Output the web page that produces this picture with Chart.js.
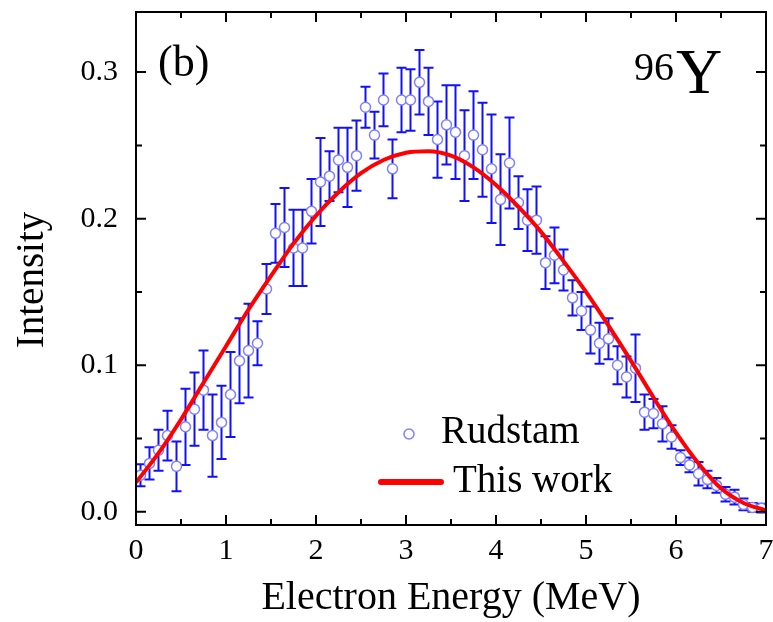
<!DOCTYPE html>
<html lang="en">
<head>
  <meta charset="UTF-8">
  <title>96Y electron spectrum</title>
  <script src="https://cdn.jsdelivr.net/npm/chart.js@4.4.1/dist/chart.umd.min.js"></script>
  <style>
    html, body { margin: 0; padding: 0; background: #fff; }
  </style>
</head>
<body>
<canvas id="spectrum" width="773" height="622"></canvas>

<script>
  // Rudstam measured points (MeV, intensity, error)
  const energies = [0.05, 0.15, 0.25, 0.35, 0.45, 0.55, 0.65, 0.75, 0.85, 0.95,
    1.05, 1.15, 1.25, 1.35, 1.45, 1.55, 1.65, 1.75, 1.85, 1.95,
    2.05, 2.15, 2.25, 2.35, 2.45, 2.55, 2.65, 2.75, 2.85, 2.95,
    3.05, 3.15, 3.25, 3.35, 3.45, 3.55, 3.65, 3.75, 3.85, 3.95,
    4.05, 4.15, 4.25, 4.35, 4.45, 4.55, 4.65, 4.75, 4.85, 4.95,
    5.05, 5.15, 5.25, 5.35, 5.45, 5.55, 5.65, 5.75, 5.85, 5.95,
    6.05, 6.15, 6.25, 6.35, 6.45, 6.55, 6.65, 6.75, 6.85, 6.95];
  const intensities = [0.025, 0.033, 0.042, 0.052, 0.031, 0.058, 0.070, 0.083, 0.052, 0.061,
    0.080, 0.103, 0.110, 0.115, 0.152, 0.190, 0.194, 0.180, 0.180, 0.205,
    0.225, 0.229, 0.240, 0.235, 0.243, 0.276, 0.257, 0.281, 0.234, 0.281,
    0.281, 0.293, 0.280, 0.254, 0.264, 0.259, 0.243, 0.257, 0.247, 0.234,
    0.213, 0.238, 0.211, 0.199, 0.199, 0.170, 0.175, 0.165, 0.146, 0.137,
    0.124, 0.115, 0.118, 0.100, 0.092, 0.098, 0.068, 0.067, 0.060, 0.051,
    0.037, 0.032, 0.026, 0.022, 0.018, 0.012, 0.010, 0.005, 0.003, 0.0025];
  const errors = [0.0075, 0.011, 0.014, 0.017, 0.017, 0.026, 0.025, 0.027, 0.028, 0.025,
    0.029, 0.029, 0.032, 0.015, 0.017, 0.020, 0.027, 0.026, 0.026, 0.022,
    0.030, 0.017, 0.022, 0.027, 0.024, 0.014, 0.016, 0.018, 0.020, 0.022,
    0.021, 0.022, 0.023, 0.026, 0.027, 0.032, 0.031, 0.030, 0.032, 0.037,
    0.031, 0.031, 0.018, 0.021, 0.023, 0.018, 0.019, 0.014, 0.012, 0.013,
    0.016, 0.014, 0.014, 0.013, 0.014, 0.023, 0.012, 0.010, 0.012, 0.008,
    0.005, 0.005, 0.008, 0.006, 0.005, 0.005, 0.005, 0.004, 0.003, 0.003];

  // "This work" calculated spectrum
  const curveEnergies = [0, 0.25, 0.5, 0.75, 1.0, 1.25, 1.5, 1.75, 2.0, 2.25, 2.5, 2.75, 3.0, 3.25,
    3.5, 3.75, 4.0, 4.25, 4.5, 4.75, 5.0, 5.25, 5.5, 5.75, 6.0, 6.25, 6.5, 6.75, 7.0];
  const curveValues = [0.020, 0.040, 0.063, 0.088, 0.113, 0.138, 0.161, 0.183, 0.202, 0.218, 0.231, 0.240, 0.245, 0.246,
    0.243, 0.235, 0.223, 0.208, 0.191, 0.171, 0.150, 0.127, 0.103, 0.078, 0.054, 0.033, 0.016, 0.006, 0.001];

  const xTicks = [0, 1, 2, 3, 4, 5, 6, 7];
  const xMinorTicks = [0.5, 1.5, 2.5, 3.5, 4.5, 5.5, 6.5];
  const yTicks = [0.0, 0.1, 0.2, 0.3];
  const yMinorTicks = [0.05, 0.15, 0.25];

  const serif = 'Liberation Serif';
  Chart.defaults.font.family = serif;
  Chart.defaults.color = '#000';

  // vertical error bars with caps, under the markers
  const errorBars = {
    id: 'errorBars',
    beforeDatasetsDraw(chart) {
      const { ctx, scales: { x, y } } = chart;
      ctx.save();
      ctx.strokeStyle = '#1010ff';
      ctx.lineWidth = 2;
      ctx.beginPath();
      energies.forEach((e, i) => {
        const px = x.getPixelForValue(e);
        const top = y.getPixelForValue(intensities[i] + errors[i]);
        const bot = y.getPixelForValue(intensities[i] - errors[i]);
        ctx.moveTo(px, top); ctx.lineTo(px, bot);
        ctx.moveTo(px - 5, top); ctx.lineTo(px + 5, top);
        ctx.moveTo(px - 5, bot); ctx.lineTo(px + 5, bot);
      });
      ctx.stroke();
      ctx.restore();
    }
  };

  // box frame with inward ticks on all four sides
  const frame = {
    id: 'frame',
    afterDatasetsDraw(chart) {
      const { ctx, chartArea: a, scales: { x, y } } = chart;
      ctx.save();
      ctx.strokeStyle = '#000';
      ctx.lineWidth = 2;
      ctx.strokeRect(a.left, a.top, a.right - a.left, a.bottom - a.top);
      ctx.beginPath();
      const xt = (v, len) => {
        const px = x.getPixelForValue(v);
        ctx.moveTo(px, a.bottom); ctx.lineTo(px, a.bottom - len);
        ctx.moveTo(px, a.top); ctx.lineTo(px, a.top + len);
      };
      const yt = (v, len) => {
        const py = y.getPixelForValue(v);
        ctx.moveTo(a.left, py); ctx.lineTo(a.left + len, py);
        ctx.moveTo(a.right, py); ctx.lineTo(a.right - len, py);
      };
      xTicks.forEach(v => xt(v, 10));
      xMinorTicks.forEach(v => xt(v, 6));
      yTicks.forEach(v => yt(v, 10));
      yMinorTicks.forEach(v => yt(v, 6));
      ctx.stroke();
      ctx.restore();
    }
  };

  // y title, panel label, nucleus and legend
  const labels = {
    id: 'labels',
    afterDraw(chart) {
      const { ctx } = chart;
      ctx.save();
      ctx.fillStyle = '#000';

      ctx.save();
      ctx.translate(33, 280);
      ctx.rotate(-Math.PI / 2);
      ctx.font = `39px "${serif}"`;
      ctx.textAlign = 'center';
      ctx.textBaseline = 'middle';
      ctx.fillText('Intensity', 0, 0);
      ctx.restore();

      ctx.textBaseline = 'alphabetic';
      ctx.font = `44px "${serif}"`;
      ctx.fillText('(b)', 158, 76);
      ctx.font = `40px "${serif}"`;
      ctx.fillText('96', 634, 80);
      ctx.font = `64px "${serif}"`;
      ctx.fillText('Y', 676, 93);

      // legend
      ctx.font = `39px "${serif}"`;
      ctx.beginPath();
      ctx.arc(409, 434, 5, 0, Math.PI * 2);
      ctx.strokeStyle = '#8080ff';
      ctx.lineWidth = 1.5;
      ctx.stroke();
      ctx.fillText('Rudstam', 441, 443);
      ctx.beginPath();
      ctx.moveTo(381, 482); ctx.lineTo(441, 482);
      ctx.strokeStyle = '#ff0000';
      ctx.lineWidth = 6;
      ctx.lineCap = 'round';
      ctx.stroke();
      ctx.fillText('This work', 453, 492);
      ctx.restore();
    }
  };

  new Chart(document.getElementById('spectrum'), {
    type: 'scatter',
    data: {
      datasets: [{
        type: 'line',
        label: 'This work',
        data: curveEnergies.map((e, i) => ({ x: e, y: curveValues[i] })),
        borderColor: '#ff0000',
        borderWidth: 4,
        pointRadius: 0,
        cubicInterpolationMode: 'monotone',
        fill: false
      }, {
        label: 'Rudstam',
        data: energies.map((e, i) => ({ x: e, y: intensities[i] })),
        pointRadius: 5,
        pointBorderWidth: 1.5,
        pointBorderColor: '#8080ff',
        pointBackgroundColor: '#fff'
      }]
    },
    options: {
      responsive: false,
      animation: false,
      layout: { padding: { top: 12, right: 7, left: 0, bottom: 0 } },
      plugins: {
        legend: { display: false },
        tooltip: { enabled: false }
      },
      scales: {
        x: {
          type: 'linear',
          min: 0,
          max: 7,
          afterBuildTicks: s => { s.ticks = xTicks.map(v => ({ value: v })); },
          afterFit: s => { s.height = 97; s.paddingLeft = 0; s.paddingRight = 0; },
          grid: { display: false, drawTicks: false },
          border: { display: false },
          ticks: { font: { size: 30 }, padding: 8, maxRotation: 0 },
          title: { display: true, text: 'Electron Energy (MeV)', font: { size: 40 }, padding: 0 }
        },
        y: {
          min: -0.009,
          max: 0.341,
          afterBuildTicks: s => { s.ticks = yTicks.map(v => ({ value: v })); },
          afterFit: s => { s.width = 136; s.paddingTop = 0; s.paddingBottom = 0; },
          grid: { display: false, drawTicks: false },
          border: { display: false },
          ticks: { font: { size: 30 }, padding: 18, callback: v => v.toFixed(1) }
        }
      }
    },
    plugins: [errorBars, frame, labels]
  });
</script>
</body>
</html>
